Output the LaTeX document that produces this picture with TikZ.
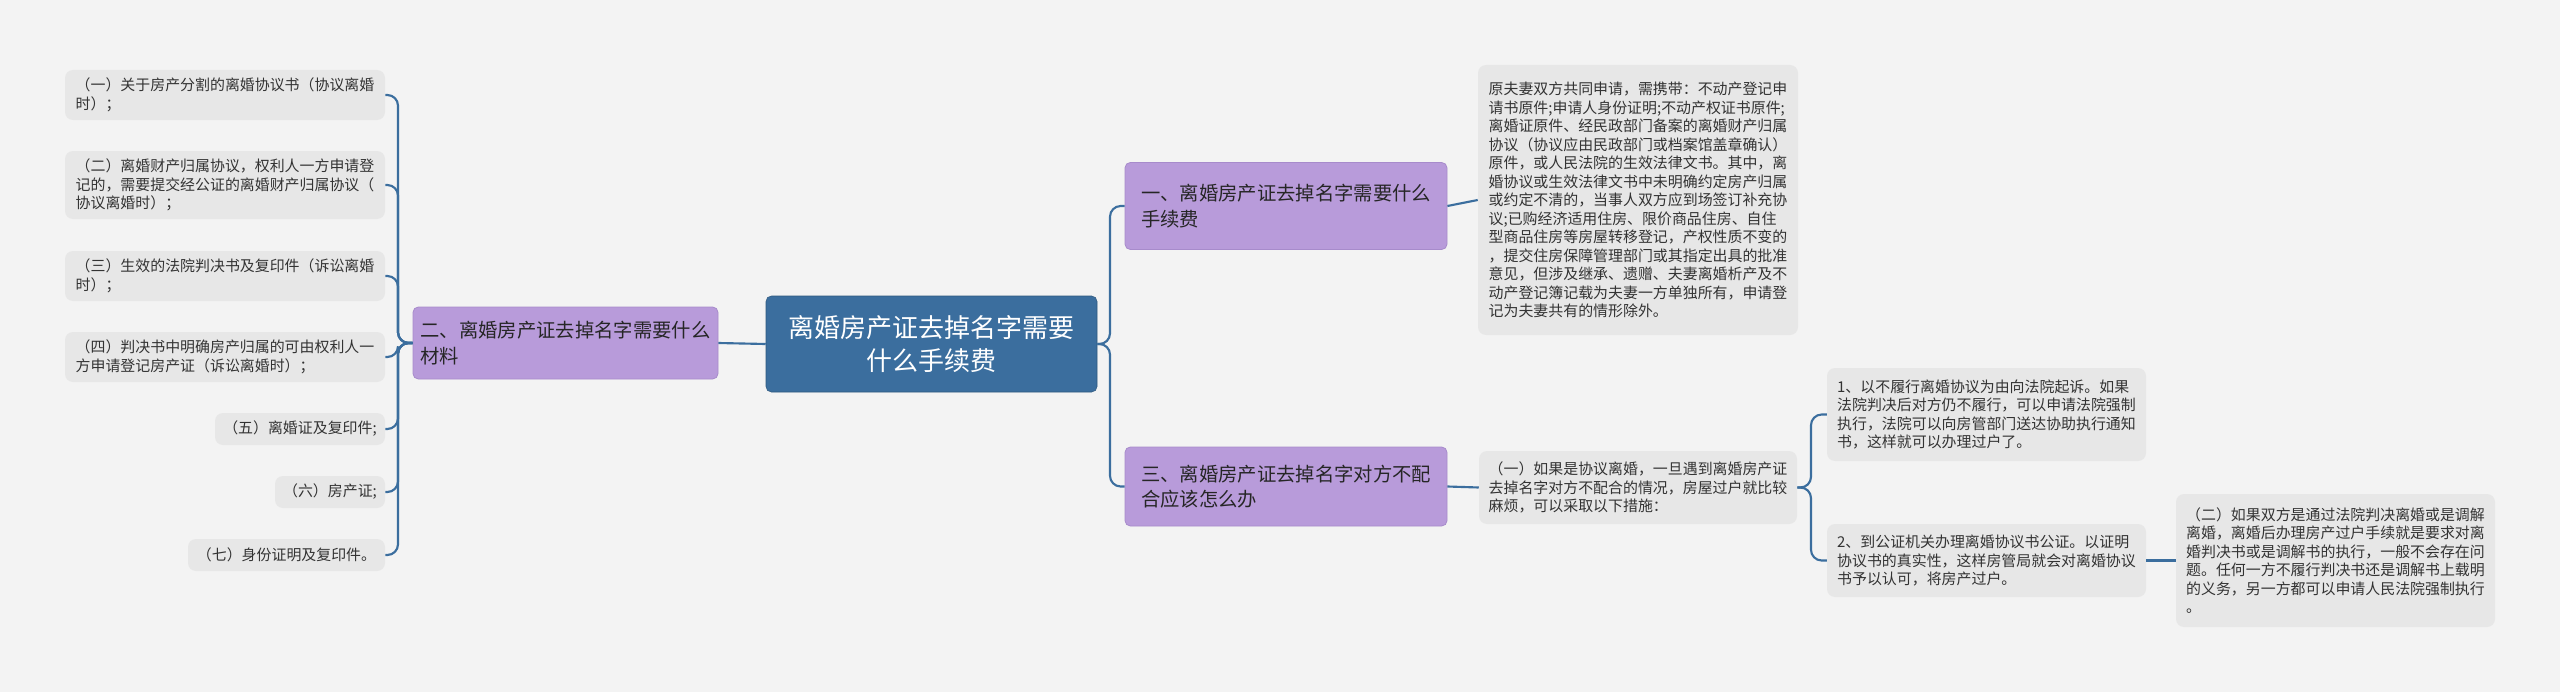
\documentclass[tikz,border=0pt]{standalone}
\usepackage{fontspec}
\setmainfont{Noto Sans CJK SC}
\begin{document}
\begin{tikzpicture}[x=0.75pt,y=-0.75pt,
  txt/.style={rectangle,rounded corners=6pt,fill=boxgray,draw=none,align=left,font=\fontsize{11.2pt}{13.9pt}\selectfont,text=black!80,inner xsep=6pt,inner ysep=3pt},
  pur/.style={rectangle,rounded corners=4pt,fill=purp,draw=purpd,line width=0.6pt,align=left,font=\fontsize{14.5pt}{19pt}\selectfont,text=black!85},
  ln/.style={draw=lblue,line width=1.6pt,rounded corners=8pt}]
\definecolor{boxgray}{HTML}{E7E7E7}
\definecolor{purp}{HTML}{B89BDA}
\definecolor{purpd}{HTML}{A78BCB}
\definecolor{lblue}{HTML}{3B6E9E}
\definecolor{bg}{HTML}{F3F3F3}
\fill[bg] (0,0) rectangle (2560,692);
\useasboundingbox (0,0) rectangle (2560,692);
% center
\node[rectangle,rounded corners=4pt,fill=lblue,draw=lblue!80!black,text=white,align=center,font=\fontsize{19.5pt}{25pt}\selectfont,minimum width=331*0.75pt,minimum height=96*0.75pt] (c) at (931.5,344) {离婚房产证去掉名字需要\\什么手续费};
% purple
\node[pur,minimum width=305*0.75pt,minimum height=72*0.75pt] (pl) at (565.5,343) {二、离婚房产证去掉名字需要什么\\材料};
\node[pur,minimum width=322*0.75pt,minimum height=87*0.75pt] (p1) at (1286,206) {一、离婚房产证去掉名字需要什么\\手续费};
\node[pur,minimum width=322*0.75pt,minimum height=79*0.75pt] (p2) at (1286,486.5) {三、离婚房产证去掉名字对方不配\\合应该怎么办};
% left items
\node[txt,minimum width=320*0.75pt,minimum height=50*0.75pt] (l1) at (225,95) {（一）关于房产分割的离婚协议书（协议离婚\\时）；};
\node[txt,minimum width=320*0.75pt,minimum height=68*0.75pt] (l2) at (225,185) {（二）离婚财产归属协议，权利人一方申请登\\记的，需要提交经公证的离婚财产归属协议（\\协议离婚时）；};
\node[txt,minimum width=320*0.75pt,minimum height=50*0.75pt] (l3) at (225,276) {（三）生效的法院判决书及复印件（诉讼离婚\\时）；};
\node[txt,minimum width=320*0.75pt,minimum height=50*0.75pt] (l4) at (225,357) {（四）判决书中明确房产归属的可由权利人一\\方申请登记房产证（诉讼离婚时）；};
\node[txt,minimum width=170*0.75pt,minimum height=32*0.75pt] (l5) at (300,429) {（五）离婚证及复印件;};
\node[txt,minimum width=110*0.75pt,minimum height=32*0.75pt] (l6) at (330,492) {（六）房产证;};
\node[txt,minimum width=197*0.75pt,minimum height=32*0.75pt] (l7) at (286.5,555) {（七）身份证明及复印件。};
% right text boxes
\node[txt,minimum width=320*0.75pt,minimum height=270*0.75pt] (t1) at (1638,200) {原夫妻双方共同申请，需携带：不动产登记申\\请书原件;申请人身份证明;不动产权证书原件;\\离婚证原件、经民政部门备案的离婚财产归属\\协议（协议应由民政部门或档案馆盖章确认）\\原件，或人民法院的生效法律文书。其中，离\\婚协议或生效法律文书中未明确约定房产归属\\或约定不清的，当事人双方应到场签订补充协\\议;已购经济适用住房、限价商品住房、自住\\型商品住房等房屋转移登记，产权性质不变的\\，提交住房保障管理部门或其指定出具的批准\\意见，但涉及继承、遗赠、夫妻离婚析产及不\\动产登记簿记载为夫妻一方单独所有，申请登\\记为夫妻共有的情形除外。};
\node[txt,minimum width=318*0.75pt,minimum height=73*0.75pt] (a) at (1638,487.5) {（一）如果是协议离婚，一旦遇到离婚房产证\\去掉名字对方不配合的情况，房屋过户就比较\\麻烦，可以采取以下措施：};
\node[txt,minimum width=319*0.75pt,minimum height=93*0.75pt] (a1) at (1986.5,414.5) {1、以不履行离婚协议为由向法院起诉。如果\\法院判决后对方仍不履行，可以申请法院强制\\执行，法院可以向房管部门送达协助执行通知\\书，这样就可以办理过户了。};
\node[txt,minimum width=319*0.75pt,minimum height=73*0.75pt] (a2) at (1986.5,560.5) {2、到公证机关办理离婚协议书公证。以证明\\协议书的真实性，这样房管局就会对离婚协议\\书予以认可，将房产过户。};
\node[txt,minimum width=319*0.75pt,minimum height=133*0.75pt] (b) at (2335.5,560.5) {（二）如果双方是通过法院判决离婚或是调解\\离婚，离婚后办理房产过户手续就是要求对离\\婚判决书或是调解书的执行，一般不会存在问\\题。任何一方不履行判决书还是调解书上载明\\的义务，另一方都可以申请人民法院强制执行\\。};
% connectors
\draw[ln] (c.west) -- (pl.east);
\foreach \n in {l1,l2,l3,l4,l5,l6,l7}{\draw[ln] (pl.west) -- (398,343) |- (\n.east);}
\foreach \n in {p1,p2}{\draw[ln] (c.east) -- (1110,344) |- (\n.west);}
\draw[ln] (p1.east) -- (t1.west);
\draw[ln] (p2.east) -- (a.west);
\foreach \n in {a1,a2}{\draw[ln] (a.east) -- (1811,487.5) |- (\n.west);}
\draw[ln] (a2.east) -- (b.west);
\end{tikzpicture}
\end{document}
